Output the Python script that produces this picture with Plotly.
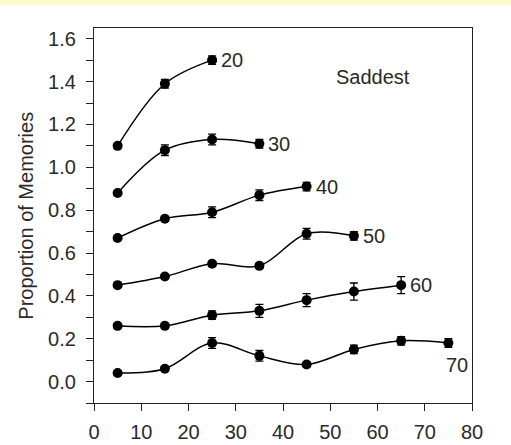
import plotly.graph_objects as go

# Age-group series: proportion of saddest memories by age decade
ages = [5, 15, 25, 35, 45, 55, 65, 75]
groups = ["20", "30", "40", "50", "60", "70"]

s20 = [1.10, 1.39, 1.50]
s30 = [0.88, 1.08, 1.13, 1.11]
s40 = [0.67, 0.76, 0.79, 0.87, 0.91]
s50 = [0.45, 0.49, 0.55, 0.54, 0.69, 0.68]
s60 = [0.26, 0.26, 0.31, 0.33, 0.38, 0.42, 0.45]
s70 = [0.04, 0.06, 0.18, 0.12, 0.08, 0.15, 0.19, 0.18]

e20 = [0.01, 0.02, 0.02]
e30 = [0.01, 0.025, 0.025, 0.02]
e40 = [0.01, 0.01, 0.025, 0.025, 0.02]
e50 = [0.01, 0.01, 0.01, 0.01, 0.025, 0.02]
e60 = [0.01, 0.01, 0.02, 0.03, 0.03, 0.04, 0.04]
e70 = [0.01, 0.01, 0.025, 0.025, 0.01, 0.02, 0.02, 0.02]

x_ticks = [0, 10, 20, 30, 40, 50, 60, 70, 80]
y_ticks = [0.0, 0.2, 0.4, 0.6, 0.8, 1.0, 1.2, 1.4, 1.6]

series = [s20, s30, s40, s50, s60, s70]
errors = [e20, e30, e40, e50, e60, e70]

FONT = "Liberation Sans, Arial, sans-serif"
TXT = "#2a2a2a"
SIZE = 20

fig = go.Figure()
annotations = []
for name, ys, es in zip(groups, series, errors):
    xs = ages[:len(ys)]
    fig.add_trace(go.Scatter(
        x=xs, y=ys, mode="lines+markers", name=name,
        line=dict(color="black", width=1.5, shape="spline", smoothing=1.0),
        marker=dict(color="black", size=10, symbol="circle"),
        error_y=dict(type="data", array=es, visible=True, color="black",
                     thickness=1.3, width=4),
        showlegend=False,
    ))
    if name == "70":
        annotations.append(dict(x=xs[-1], y=ys[-1], text=name, showarrow=False,
                                xanchor="center", yanchor="middle",
                                xshift=9, yshift=-22,
                                font=dict(family=FONT, size=SIZE, color=TXT)))
    else:
        annotations.append(dict(x=xs[-1], y=ys[-1], text=name, showarrow=False,
                                xanchor="left", yanchor="middle", xshift=7,
                                font=dict(family=FONT, size=SIZE, color=TXT)))

annotations.append(dict(x=59, y=1.42, text="Saddest", showarrow=False,
                        xanchor="center", yanchor="middle",
                        font=dict(family=FONT, size=SIZE, color=TXT)))
annotations.append(dict(x=-0.182, y=0.5, xref="paper", yref="paper",
                        text="Proportion of Memories", showarrow=False,
                        textangle=-90, xanchor="center", yanchor="middle",
                        font=dict(family=FONT, size=SIZE, color=TXT)))

fig.update_layout(
    width=511, height=445,
    margin=dict(l=94, r=39, t=28, b=42),
    paper_bgcolor="white", plot_bgcolor="white",
    annotations=annotations,
    shapes=[dict(type="rect", xref="paper", yref="paper",
                 x0=-0.3, x1=1.2, y0=1 + 23 / 375, y1=1 + 28 / 375,
                 fillcolor="#fffbc8", line=dict(width=0), layer="below")],
)

fig.update_xaxes(
    range=[0, 80], tickvals=x_ticks, ticks="outside", ticklen=7,
    tickwidth=1.2, tickcolor="#222", showline=True, linecolor="#222",
    linewidth=1.3, mirror=True, showgrid=False, zeroline=False,
    automargin=False,
    tickfont=dict(family=FONT, size=SIZE, color=TXT), ticklabelstandoff=4,
)
fig.update_yaxes(
    range=[-0.1, 1.65], tickvals=y_ticks, tickformat=".1f", ticks="outside",
    ticklen=7, tickwidth=1.2, tickcolor="#222", showline=True,
    linecolor="#222", linewidth=1.3, mirror=True, showgrid=False,
    zeroline=False, automargin=False,
    tickfont=dict(family=FONT, size=SIZE, color=TXT),
    minor=dict(dtick=0.1, tick0=0, ticks="outside", ticklen=7,
               tickwidth=1.2, tickcolor="#222", showgrid=False),
    ticklabelstandoff=6,
)

fig.write_html("out.html")
